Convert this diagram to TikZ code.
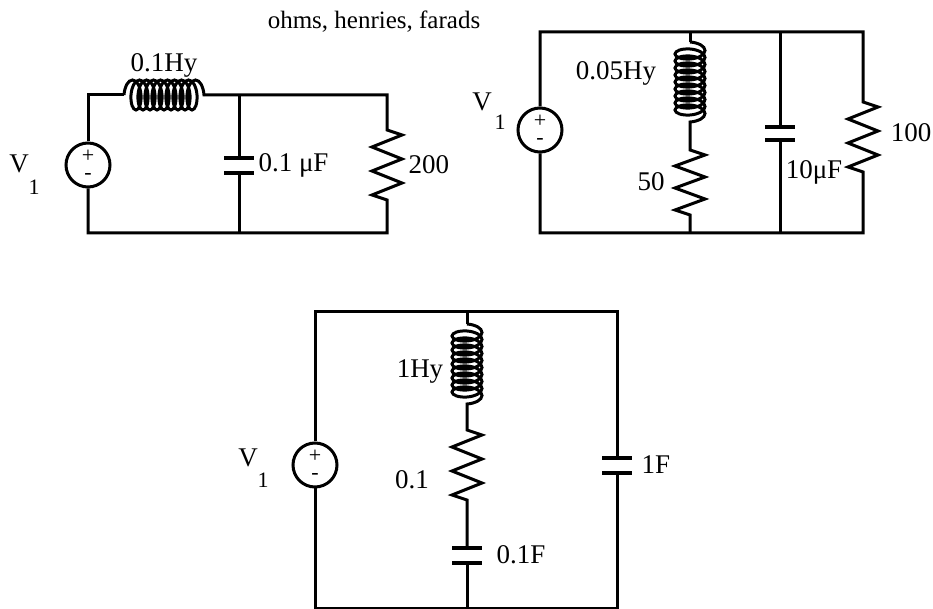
\documentclass[tikz,border=0pt]{standalone}
\usepackage{fontspec}
\setmainfont{Liberation Serif}
\usetikzlibrary{decorations.pathmorphing}
\tikzstyle{every path}=[line width=1.5pt, line join=miter]
\tikzstyle{plate}=[line width=2pt]
\tikzstyle{source}=[draw, circle, minimum size=22pt, inner sep=0pt]
\tikzstyle{value}=[font=\fontsize{13.5}{15}\selectfont, inner sep=0pt]
\tikzstyle{vname}=[font=\fontsize{13.5}{15}\selectfont, inner sep=0pt]
\tikzstyle{vsub}=[font=\fontsize{11}{12}\selectfont, inner sep=0pt]
\tikzstyle{sign}=[font=\fontsize{11}{8.5}\selectfont, align=center, inner sep=0pt]
\tikzstyle{inductor}=[decorate, decoration={coil, amplitude=7.5pt, segment length=3.5pt, aspect=0.45}]

\begin{document}
\begin{tikzpicture}[x=0.5pt, y=-0.5pt]
            \useasboundingbox (0,0) rectangle (933,609);
            \node[font=\fontsize{12.5}{14}\selectfont, inner sep=0pt] (title) at (374,22) {ohms, henries, farads};

            % first circuit
            \coordinate (a-tl) at (88,95);
            \coordinate (a-tr) at (387,95);
            \coordinate (a-bl) at (88,233);
            \coordinate (a-br) at (387,233);
            \coordinate (a-tm) at (239,95);
            \coordinate (a-bm) at (239,233);
            \coordinate (a-l1) at (124,95);
            \coordinate (a-l2) at (204,95);
            \coordinate (a-c1) at (239,158);
            \coordinate (a-c2) at (239,173);
            \coordinate (a-r1) at (387,130);
            \node[source] (a-src) at (88,165) {};
            \node[sign] (a-sign) at (a-src.center) {+\\-};
            \draw (a-src.north) -- (a-tl) -- (a-l1);
            \draw[inductor] (a-l1) -- (a-l2);
            \draw (a-l2) -- (a-tr) -- (a-r1) -- ++(15,5) -- ++(-30,12) -- ++(30,12) -- ++(-30,12) -- ++(30,12) -- ++(-30,12) -- ++(15,5) -- (a-br) -- (a-bl) -- (a-src.south);
            \draw (a-tm) -- (a-c1);
            \draw (a-c2) -- (a-bm);
            \draw[plate] (a-c1) ++(-15,0) -- ++(30,0);
            \draw[plate] (a-c2) ++(-15,0) -- ++(30,0);
            \node[vname] (a-v) at (19,164) {V};
            \node[vsub] (a-v1) at (34,187) {1};
            \node[value] (a-lval) at (164,65) {0.1Hy};
            \node[value, anchor=west] (a-cval) at (257,165) {0.1 μF};
            \node[value, anchor=west] (a-rval) at (407,165) {200};

            % second circuit
            \coordinate (b-tl) at (540,32);
            \coordinate (b-tr) at (863,32);
            \coordinate (b-bl) at (540,233);
            \coordinate (b-br) at (863,233);
            \coordinate (b-tm) at (690,32);
            \coordinate (b-bm) at (690,233);
            \coordinate (b-tc) at (780,32);
            \coordinate (b-bc) at (780,233);
            \coordinate (b-l1) at (690,42);
            \coordinate (b-l2) at (690,122);
            \coordinate (b-r1) at (690,150);
            \coordinate (b-c1) at (780,127);
            \coordinate (b-c2) at (780,140);
            \coordinate (b-r2) at (863,102);
            \node[source] (b-src) at (540,130) {};
            \node[sign] (b-sign) at (b-src.center) {+\\-};
            \draw (b-src.north) -- (b-tl) -- (b-tr) -- (b-r2) -- ++(15,5) -- ++(-30,12) -- ++(30,12) -- ++(-30,12) -- ++(30,12) -- ++(-30,12) -- ++(15,5) -- (b-br) -- (b-bl) -- (b-src.south);
            \draw (b-tm) -- (b-l1);
            \draw[inductor] (b-l1) -- (b-l2);
            \draw (b-l2) -- (b-r1) -- ++(15,5) -- ++(-30,11) -- ++(30,11) -- ++(-30,11) -- ++(30,11) -- ++(-30,11) -- ++(15,5) -- (b-bm);
            \draw (b-tc) -- (b-c1);
            \draw (b-c2) -- (b-bc);
            \draw[plate] (b-c1) ++(-15,0) -- ++(30,0);
            \draw[plate] (b-c2) ++(-15,0) -- ++(30,0);
            \node[vname] (b-v) at (482,102) {V};
            \node[vsub] (b-v1) at (500,122) {1};
            \node[value] (b-lval) at (616,73) {0.05Hy};
            \node[value] (b-rval1) at (651,182) {50};
            \node[value] (b-cval) at (814,172) {10μF};
            \node[value] (b-rval2) at (911,133) {100};

            % third circuit
            \coordinate (c-tl) at (315,312);
            \coordinate (c-tr) at (617,312);
            \coordinate (c-bl) at (315,608);
            \coordinate (c-br) at (617,608);
            \coordinate (c-tm) at (467,312);
            \coordinate (c-bm) at (467,608);
            \coordinate (c-l1) at (467,324);
            \coordinate (c-l2) at (467,404);
            \coordinate (c-r1) at (467,430);
            \coordinate (c-c1) at (467,548);
            \coordinate (c-c2) at (467,563);
            \coordinate (c-c3) at (617,458);
            \coordinate (c-c4) at (617,473);
            \node[source] (c-src) at (315,465) {};
            \node[sign] (c-sign) at (c-src.center) {+\\-};
            \draw (c-src.north) -- (c-tl) -- (c-tr) -- (c-c3);
            \draw (c-c4) -- (c-br) -- (c-bl) -- (c-src.south);
            \draw (c-tm) -- (c-l1);
            \draw[inductor] (c-l1) -- (c-l2);
            \draw (c-l2) -- (c-r1) -- ++(15,5) -- ++(-30,12) -- ++(30,12) -- ++(-30,12) -- ++(30,12) -- ++(-30,12) -- ++(15,5) -- (c-c1);
            \draw (c-c2) -- (c-bm);
            \draw[plate] (c-c1) ++(-15,0) -- ++(30,0);
            \draw[plate] (c-c2) ++(-15,0) -- ++(30,0);
            \draw[plate] (c-c3) ++(-15,0) -- ++(30,0);
            \draw[plate] (c-c4) ++(-15,0) -- ++(30,0);
            \node[vname] (c-v) at (248,458) {V};
            \node[vsub] (c-v1) at (263,480) {1};
            \node[value] (c-lval) at (420,372) {1Hy};
            \node[value] (c-rval) at (412,480) {0.1};
            \node[value] (c-cval1) at (521,555) {0.1F};
            \node[value, anchor=west] (c-cval2) at (640,465) {1F};
        \end{tikzpicture}
\end{document}
